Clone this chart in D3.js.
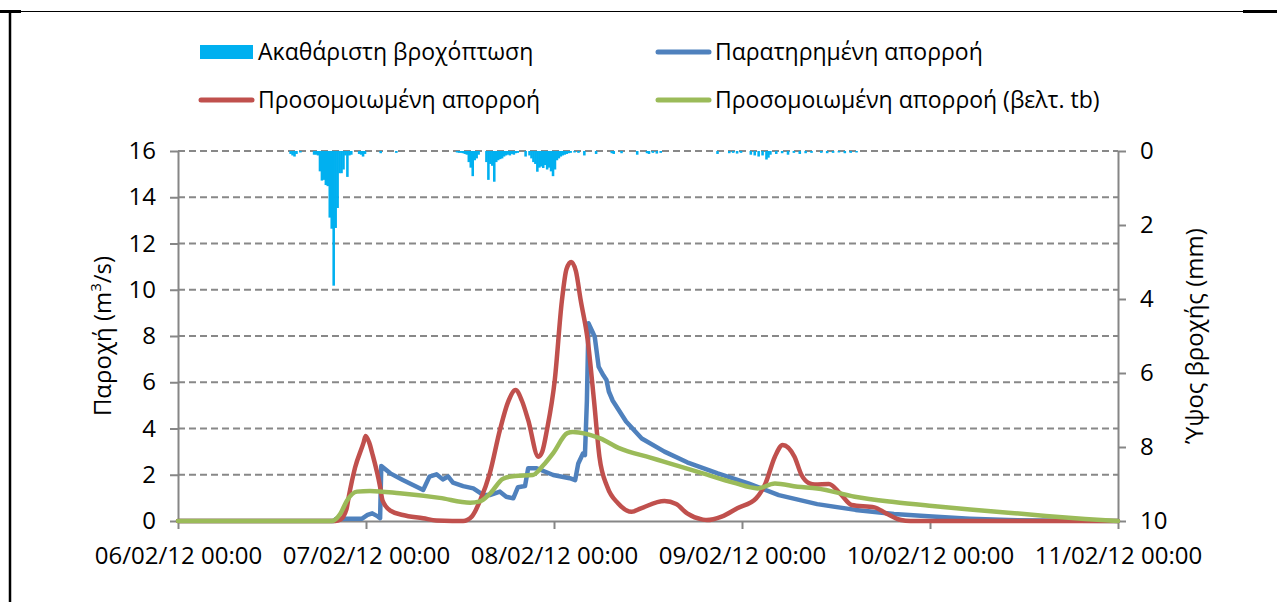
<!DOCTYPE html>
<meta charset="utf-8">
<head>
    <title>Απορροή και βροχόπτωση</title>
    <script type="text/javascript" src="https://cdn.jsdelivr.net/npm/d3@7"></script>
    <style>
        body { margin: 0; background: #fff; }
        text { font-family: "Open Sans", sans-serif; fill: #000; }
    </style>
</head>
<body>
<script>

// data: [hours since 06/02/12 00:00, value]
var observedFlow = [[0,0],[19.9,0],[20.2,0.1],[23.5,0.1],[24.2,0.26],[24.8,0.33],[25.5,0.2],[25.8,0.12],[25.95,2.38],
    [27.1,2.06],[28.7,1.77],[31.3,1.34],[32.1,1.92],[33.0,2.02],[33.8,1.8],[34.5,1.92],[35.1,1.66],[36.4,1.51],
    [37.7,1.41],[39.0,1.12],[39.8,1.12],[41.1,1.27],[41.9,1.05],[42.8,0.98],[43.4,1.46],[44.3,1.51],[44.7,2.28],
    [45.8,2.28],[47.9,1.99],[50.0,1.85],[50.7,1.77],[51.1,2.49],[51.7,2.92],[51.95,2.85],[52.2,5.2],[52.4,8.55],
    [53.2,7.97],[53.7,6.67],[54.3,6.3],[54.7,6.1],[55.0,5.6],[55.5,5.2],[57.2,4.3],[59.2,3.57],[62.1,3.0],
    [65.0,2.54],[68.9,2.06],[72.8,1.63],[76.7,1.12],[81.6,0.73],[86.5,0.48],[91.4,0.3],[96.3,0.19],[101.1,0.1],
    [106.0,0.04],[110,0.02],[120,0]];

var simulatedFlow = [[0,0],[20.1,0],[20.7,0.05],[21.5,0.5],[21.8,1.05],[22.6,2.3],[23.7,3.4],[23.95,3.68],[24.4,3.4],
    [24.8,2.92],[25.8,1.48],[26.1,0.9],[27.1,0.45],[28.7,0.26],[31.3,0.12],[33.0,0.02],[35,0],[36.4,0],[37.5,0.19],
    [38.6,0.91],[39.8,2.06],[41.1,3.94],[42.2,5.2],[43.1,5.66],[43.9,5.2],[44.7,4.37],[46.0,2.78],[46.5,3.0],
    [47.1,3.94],[48.1,6.1],[49.0,9.5],[49.6,10.9],[50.2,11.2],[50.8,10.8],[51.4,9.56],[52.3,7.83],[53.1,5.23],
    [53.8,2.78],[54.8,1.48],[56.2,0.76],[57.9,0.4],[59.1,0.55],[62.1,0.86],[63.6,0.73],[65.0,0.33],[67.0,0.06],
    [67.5,0.04],[69.4,0.19],[71.4,0.55],[73.8,0.98],[75.0,1.63],[76.2,2.78],[77.2,3.29],[78.7,2.78],[79.6,1.99],
    [80.6,1.63],[81.3,1.58],[83.1,1.6],[84.5,1.2],[86.0,0.69],[88.9,0.59],[90.4,0.33],[92.3,0.04],[93.5,0],[120,0]];

var simulatedFlowTb = [[0,0],[19.66,0],[20.7,0.3],[21.6,0.9],[22.85,1.27],[24.5,1.3],[28.3,1.2],[33.4,1.0],[37.3,0.79],
    [38.55,0.85],[39.8,1.17],[41.5,1.83],[43.0,1.95],[45.3,1.99],[46.6,2.4],[47.9,2.94],[49.7,3.8],[50.4,3.85],
    [53.9,3.57],[56.3,3.15],[60.3,2.74],[62.0,2.57],[67.0,2.06],[70.9,1.66],[74.0,1.41],[76.2,1.62],[79.1,1.48],
    [81.6,1.41],[86.4,1.05],[91.4,0.82],[96.3,0.65],[101.1,0.5],[106.0,0.36],[110.8,0.22],[115.8,0.09],[120,0]];

// gross rainfall, 15-min intervals: [start hour, mm]
var grossRain = [[14.25,0.08],[14.5,0.12],[14.75,0.15],[15,0.08],[15.5,0.04],
    [17.25,0.1],[17.5,0.1],[17.75,0.12],[18,0.55],[18.25,0.8],[18.5,0.78],[18.75,0.92],[19,0.95],[19.25,1.8],
    [19.5,2.1],[19.75,3.64],[20,2.08],[20.25,1.54],[20.5,0.6],[20.75,0.6],[21,0.5],[21.25,0.12],[21.5,0.7],
    [21.75,0.12],[22,0.1],[23,0.08],[23.25,0.1],[23.5,0.15],[23.75,0.08],[25.75,0.06],[27.75,0.05],
    [35.5,0.04],[35.75,0.05],[36,0.05],[36.25,0.06],[36.5,0.08],[36.75,0.1],[37,0.3],[37.25,0.45],[37.5,0.68],
    [37.75,0.25],[38,0.2],[38.25,0.1],[39.25,0.3],[39.5,0.78],[39.75,0.35],[40,0.4],[40.25,0.83],[40.5,0.3],
    [40.75,0.25],[41,0.22],[41.25,0.2],[41.5,0.15],[41.75,0.12],[42,0.1],[42.25,0.12],[42.5,0.08],[42.75,0.1],
    [43,0.06],[43.25,0.05],[44.25,0.15],[44.75,0.12],[45,0.2],[45.25,0.3],[45.5,0.35],[45.75,0.56],[46,0.45],
    [46.25,0.42],[46.5,0.46],[46.75,0.38],[47,0.5],[47.25,0.45],[47.5,0.55],[47.75,0.68],[48,0.5],[48.25,0.25],
    [48.5,0.2],[48.75,0.15],[49,0.12],[49.25,0.1],[49.5,0.08],[49.75,0.06],[50,0.05],[50.5,0.04],[51,0.05],
    [51.75,0.12],[53.25,0.08],[55.25,0.06],[55.5,0.08],[56.5,0.06],[58.5,0.1],[59.75,0.06],[60,0.08],[60.5,0.05],
    [61,0.07],[61.5,0.05],[68.75,0.08],[70.25,0.06],[70.75,0.05],[71.25,0.07],[71.75,0.05],[73,0.1],[73.5,0.12],
    [74,0.15],[74.5,0.12],[75,0.23],[75.25,0.18],[75.5,0.1],[76.25,0.08],[77,0.06],[77.75,0.1],[78.5,0.05],
    [79.25,0.08],[80,0.06],[80.75,0.05],[82,0.05],[82.75,0.06],[83.5,0.05],[84.25,0.04],[85,0.06],[85.75,0.05],
    [86.5,0.04]];

var flowTicks = [0,2,4,6,8,10,12,14,16];
var rainTicks = [0,2,4,6,8,10];
var legendLabels = ["Ακαθάριστη βροχόπτωση","Παρατηρημένη απορροή","Προσομοιωμένη απορροή","Προσομοιωμένη απορροή (βελτ. tb)"];
var colors = ["#00B0F0","#4F81BD","#C0504D","#9BBB59"];

var w = 1277, h = 602;
var pLeft = 178, pRight = 1118, pTop = 151, pBottom = 521;
var t0 = new Date(2012,1,6,0,0);
function toDate(hr) { return new Date(t0.getTime() + hr*3600e3); }

var svg = d3.select("body").append("svg").attr("width", w).attr("height", h);

// frame
svg.append("line").attr("x1",0).attr("x2",w).attr("y1",11.5).attr("y2",11.5).style("stroke","#000").style("stroke-width",1);
svg.append("line").attr("x1",0).attr("x2",21).attr("y1",11.5).attr("y2",11.5).style("stroke","#000").style("stroke-width",3);
svg.append("line").attr("x1",1243).attr("x2",w).attr("y1",11.5).attr("y2",11.5).style("stroke","#000").style("stroke-width",3);
svg.append("line").attr("x1",10).attr("x2",10).attr("y1",10).attr("y2",h).style("stroke","#000").style("stroke-width",2.5);

// scales
var x = d3.scaleTime().domain([t0, toDate(120)]).range([pLeft, pRight]);
var y = d3.scaleLinear().domain([0,16]).range([pBottom, pTop]);
var yR = d3.scaleLinear().domain([0,10]).range([pTop, pBottom]);

// grid
svg.append("g").selectAll("line")
    .data(flowTicks.slice(1)).enter()
    .append("line")
    .attr("x1", pLeft).attr("x2", pRight)
    .attr("y1", d => y(d)).attr("y2", d => y(d))
    .style("stroke","#888").style("stroke-width",2).style("stroke-dasharray","7,4");

// axes
var gx = svg.append("g").attr("transform","translate(0,"+pBottom+")")
    .call(d3.axisBottom(x).ticks(d3.timeDay.every(1)).tickFormat(d3.timeFormat("%d/%m/%y %H:%M"))
        .tickSize(8).tickSizeOuter(0).tickPadding(18));
var gy = svg.append("g").attr("transform","translate("+pLeft+",0)")
    .call(d3.axisLeft(y).tickValues(flowTicks).tickSize(8).tickSizeOuter(0).tickPadding(14));
var gr = svg.append("g").attr("transform","translate("+pRight+",0)")
    .call(d3.axisRight(yR).tickValues(rainTicks).tickSize(8).tickSizeOuter(0).tickPadding(14));
[gx,gy,gr].forEach(function(g){
    g.selectAll("path,line").style("stroke","#868686").style("stroke-width",2);
    g.selectAll("text").style("font-size","24px").style("font-family","'Open Sans', sans-serif").attr("fill","#000");
});

// axis titles
var lt = svg.append("text")
    .attr("transform","translate(103,"+((pTop+pBottom)/2)+") rotate(-90)")
    .attr("text-anchor","middle").attr("dy","0.35em")
    .style("font-size","24px");
lt.append("tspan").text("Παροχή (m");
lt.append("tspan").attr("baseline-shift","super").style("font-size","15px").text("3");
lt.append("tspan").text("/s)");
svg.append("text")
    .attr("transform","translate(1195,"+((pTop+pBottom)/2)+") rotate(-90)")
    .attr("text-anchor","middle").attr("dy","0.35em")
    .style("font-size","24px")
    .text("Ύψος βροχής (mm)");

// rain bars (slightly widened so neighbours join up)
var barW = x(toDate(0.25)) - x(toDate(0));
svg.append("g").selectAll("rect")
    .data(grossRain).enter()
    .append("rect")
    .attr("x", d => x(toDate(d[0])) - 0.3)
    .attr("y", yR(0))
    .attr("width", barW + 0.6)
    .attr("height", d => yR(d[1]) - yR(0))
    .style("fill", colors[0]);

// flow lines
function drawLine(data, color, curve) {
    var line = d3.line().x(d => x(toDate(d[0]))).y(d => y(d[1])).curve(curve);
    svg.append("path").datum(data).attr("d", line)
        .style("fill","none").style("stroke",color).style("stroke-width",4.5)
        .style("stroke-linejoin","round").style("stroke-linecap","round");
}
drawLine(observedFlow, colors[1], d3.curveLinear);
drawLine(simulatedFlow, colors[2], d3.curveMonotoneX);
drawLine(simulatedFlowTb, colors[3], d3.curveMonotoneX);

// legend
var legendPos = [[200,52],[657,52],[200,100],[657,100]];
var lg = svg.append("g").selectAll("g").data(legendLabels).enter().append("g")
    .attr("transform", (d,i) => "translate("+legendPos[i][0]+","+legendPos[i][1]+")");
lg.each(function(d,i){
    var g = d3.select(this);
    if (i == 0) {
        g.append("rect").attr("x",0).attr("y",-7).attr("width",53).attr("height",14).style("fill",colors[0]);
    } else {
        g.append("line").attr("x1",1).attr("x2",52).attr("y1",0).attr("y2",0)
            .style("stroke",colors[i]).style("stroke-width",5).style("stroke-linecap","round");
    }
    g.append("text").attr("x",58).attr("dy","0.35em").style("font-size","23px").text(d);
});

</script>
</body>
</html>
